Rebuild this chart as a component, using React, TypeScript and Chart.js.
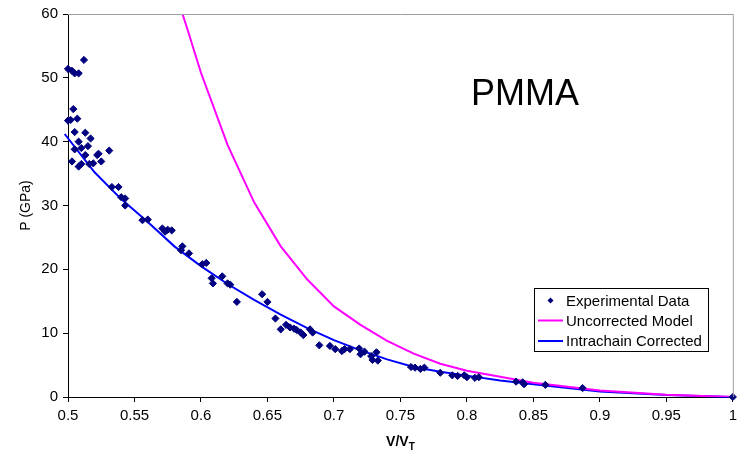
import React, { useEffect, useRef } from 'react';
import { Chart, registerables } from 'chart.js';

Chart.register(...registerables);

const FONT = '"Liberation Sans", Arial, Helvetica, sans-serif';

// Shock compression measurements: relative volume V/V_T and pressure (GPa)
const expVolume = [
  0.5, 0.503, 0.505, 0.508, 0.512, 0.504, 0.5, 0.502, 0.507, 0.505,
  0.513, 0.508, 0.517, 0.505, 0.51, 0.515, 0.503, 0.513, 0.508, 0.51,
  0.516, 0.522, 0.523, 0.519, 0.525, 0.531, 0.533, 0.538, 0.54, 0.543,
  0.543, 0.556, 0.56, 0.571, 0.573, 0.575, 0.578, 0.586, 0.585, 0.591,
  0.601, 0.604, 0.608, 0.609, 0.616, 0.62, 0.622, 0.627, 0.646, 0.65,
  0.656, 0.66, 0.664, 0.667, 0.67, 0.672, 0.675, 0.677, 0.682, 0.684,
  0.689, 0.697, 0.701, 0.706, 0.708, 0.712, 0.719, 0.72, 0.723, 0.728,
  0.732, 0.729, 0.733, 0.758, 0.761, 0.765, 0.768, 0.78, 0.789, 0.793,
  0.798, 0.8, 0.806, 0.809, 0.837, 0.842, 0.843, 0.859, 0.887, 1.0,
];
const expPressure = [
  51.4, 51.1, 50.7, 50.7, 52.8, 45.1, 43.3, 43.4, 43.6, 41.5,
  41.4, 40.0, 40.5, 38.8, 39.0, 39.3, 36.9, 37.9, 36.1, 36.5,
  36.5, 37.9, 38.1, 36.6, 36.9, 38.6, 32.9, 32.9, 31.3, 31.1,
  30.0, 27.7, 27.8, 26.4, 25.9, 26.2, 26.1, 23.6, 23.0, 22.5,
  20.8, 21.0, 18.6, 17.8, 18.9, 17.8, 17.6, 14.9, 16.1, 14.9,
  12.3, 10.6, 11.3, 10.9, 10.7, 10.5, 10.1, 9.7, 10.6, 10.1,
  8.1, 8.0, 7.5, 7.2, 7.5, 7.5, 7.6, 6.7, 7.1, 6.4,
  7.0, 5.8, 5.7, 4.7, 4.6, 4.4, 4.6, 3.8, 3.4, 3.3,
  3.4, 3.1, 3.0, 3.1, 2.4, 2.3, 2.0, 1.9, 1.4, 0.0,
];

// Model without the intrachain correction
const uncorrectedVolume = [
  0.58, 0.59, 0.6, 0.62, 0.64, 0.66, 0.68, 0.7, 0.72, 0.74,
  0.76, 0.78, 0.8, 0.85, 0.9, 0.95, 1.0,
];
const uncorrectedPressure = [
  64.0, 57.5, 50.8, 39.5, 30.5, 23.6, 18.4, 14.2, 11.3, 8.8,
  6.8, 5.2, 4.1, 2.25, 1.0, 0.35, 0.0,
];

// Model with the intrachain correction
const correctedVolume = [
  0.4975, 0.52, 0.54, 0.56, 0.58, 0.6, 0.62, 0.64, 0.66, 0.68,
  0.7, 0.72, 0.74, 0.76, 0.78, 0.8, 0.825, 0.85, 0.9, 0.95, 1.0,
];
const correctedPressure = [
  41.2, 35.2, 31.0, 27.4, 23.6, 20.5, 17.7, 15.2, 12.9, 10.8,
  8.9, 7.3, 5.9, 4.7, 3.95, 3.35, 2.6, 2.0, 0.85, 0.3, 0.0,
];

const xTicks = [0.5, 0.55, 0.6, 0.65, 0.7, 0.75, 0.8, 0.85, 0.9, 0.95, 1];
const yTicks = [0, 10, 20, 30, 40, 50, 60];

const zip = (xs: number[], ys: number[]) => xs.map((x, i) => ({ x, y: ys[i] }));

const NAVY = '#000080';
const MAGENTA = '#ff00ff';
const BLUE = '#0000ff';

// Frame, sample name, axis title with subscript and boxed legend
const decorations = {
  id: 'decorations',
  afterDraw(chart: any) {
    const { ctx, chartArea } = chart;
    const { left, right, top, bottom } = chartArea;
    ctx.save();

    // grey top and right frame lines
    ctx.strokeStyle = '#a0a0a0';
    ctx.lineWidth = 1;
    ctx.beginPath();
    ctx.moveTo(left, top + 0.5);
    ctx.lineTo(right + 0.5, top + 0.5);
    ctx.lineTo(right + 0.5, bottom);
    ctx.stroke();

    // sample name
    ctx.fillStyle = '#000';
    ctx.font = `36px ${FONT}`;
    ctx.textAlign = 'center';
    ctx.textBaseline = 'alphabetic';
    ctx.fillText('PMMA', 525, 105);

    // x axis title: V/V with subscript T
    const main = 'V/V';
    const sub = 'T';
    ctx.font = `bold 14px ${FONT}`;
    const wMain = ctx.measureText(main).width;
    ctx.font = `bold 10px ${FONT}`;
    const wSub = ctx.measureText(sub).width;
    const cx = (left + right) / 2;
    const startX = cx - (wMain + wSub) / 2;
    ctx.textAlign = 'left';
    ctx.font = `bold 14px ${FONT}`;
    ctx.fillText(main, startX, 446);
    ctx.font = `bold 10px ${FONT}`;
    ctx.fillText(sub, startX + wMain, 450);

    // legend
    const bx = 534.5;
    const by = 288.5;
    const bw = 174;
    const bh = 63;
    ctx.fillStyle = '#fff';
    ctx.fillRect(bx, by, bw, bh);
    ctx.strokeStyle = '#000';
    ctx.lineWidth = 1;
    ctx.strokeRect(bx, by, bw, bh);

    const rows = [300.5, 320.5, 341];
    const ds = chart.data.datasets;
    ctx.font = `15px ${FONT}`;
    ctx.textBaseline = 'middle';
    ctx.textAlign = 'left';
    ds.forEach((d: any, i: number) => {
      const y = rows[i];
      if (i === 0) {
        ctx.fillStyle = NAVY;
        ctx.beginPath();
        ctx.moveTo(550.5, y - 3);
        ctx.lineTo(553.5, y);
        ctx.lineTo(550.5, y + 3);
        ctx.lineTo(547.5, y);
        ctx.closePath();
        ctx.fill();
      } else {
        ctx.strokeStyle = d.borderColor;
        ctx.lineWidth = 2;
        ctx.beginPath();
        ctx.moveTo(538, y);
        ctx.lineTo(563, y);
        ctx.stroke();
      }
      ctx.fillStyle = '#000';
      ctx.fillText(d.label, 566, y + 1);
    });

    ctx.restore();
  },
};

export default function App() {
  const canvasRef = useRef<HTMLCanvasElement | null>(null);

  useEffect(() => {
    const canvas = canvasRef.current;
    if (!canvas) return;
    const chart = new Chart(canvas, {
      type: 'scatter',
      data: {
        datasets: [
          {
            label: 'Experimental Data',
            data: zip(expVolume, expPressure),
            pointStyle: 'rectRot',
            pointRadius: 3.6,
            pointBackgroundColor: NAVY,
            pointBorderColor: NAVY,
            pointBorderWidth: 1,
            showLine: false,
            clip: false,
          },
          {
            label: 'Uncorrected Model',
            data: zip(uncorrectedVolume, uncorrectedPressure),
            showLine: true,
            borderColor: MAGENTA,
            borderWidth: 2,
            pointRadius: 0,
            tension: 0,
          },
          {
            label: 'Intrachain Corrected',
            data: zip(correctedVolume, correctedPressure),
            showLine: true,
            borderColor: BLUE,
            borderWidth: 2,
            pointRadius: 0,
            tension: 0,
            clip: false,
          },
        ],
      } as any,
      options: {
        animation: false,
        responsive: true,
        maintainAspectRatio: false,
        layout: { padding: { left: 0, right: 5, top: 13, bottom: 0 } },
        plugins: {
          legend: { display: false },
          tooltip: { enabled: false },
        },
        scales: {
          x: {
            type: 'linear',
            min: 0.5,
            max: 1,
            afterBuildTicks: (scale: any) => {
              scale.ticks = xTicks.map((v) => ({ value: v }));
            },
            afterFit: (scale: any) => {
              scale.height = 59;
            },
            ticks: {
              color: '#000',
              font: { family: FONT, size: 15 },
              padding: 5,
              maxRotation: 0,
              autoSkip: false,
              callback: (v: any) => String(Number(Number(v).toFixed(2))),
            },
            grid: {
              display: true,
              drawOnChartArea: false,
              drawTicks: true,
              tickLength: 5,
              color: '#000',
            },
            border: { display: true, color: '#000', width: 1 },
          },
          y: {
            type: 'linear',
            min: 0,
            max: 60,
            afterBuildTicks: (scale: any) => {
              scale.ticks = yTicks.map((v) => ({ value: v }));
            },
            afterFit: (scale: any) => {
              scale.width = 68;
            },
            ticks: {
              color: '#000',
              font: { family: FONT, size: 15 },
              padding: 5,
              autoSkip: false,
            },
            grid: {
              display: true,
              drawOnChartArea: false,
              drawTicks: true,
              tickLength: 5,
              color: '#000',
            },
            border: { display: true, color: '#000', width: 1 },
            title: {
              display: true,
              text: 'P (GPa)',
              color: '#000',
              font: { family: FONT, size: 14 },
              padding: { top: 18, bottom: 0 },
            },
          },
        },
      } as any,
      plugins: [decorations],
    });
    return () => chart.destroy();
  }, []);

  return (
    <div
      style={{
        position: 'fixed',
        left: 0,
        top: 0,
        width: 742,
        height: 456,
        background: '#fff',
      }}
    >
      <canvas ref={canvasRef} />
    </div>
  );
}
